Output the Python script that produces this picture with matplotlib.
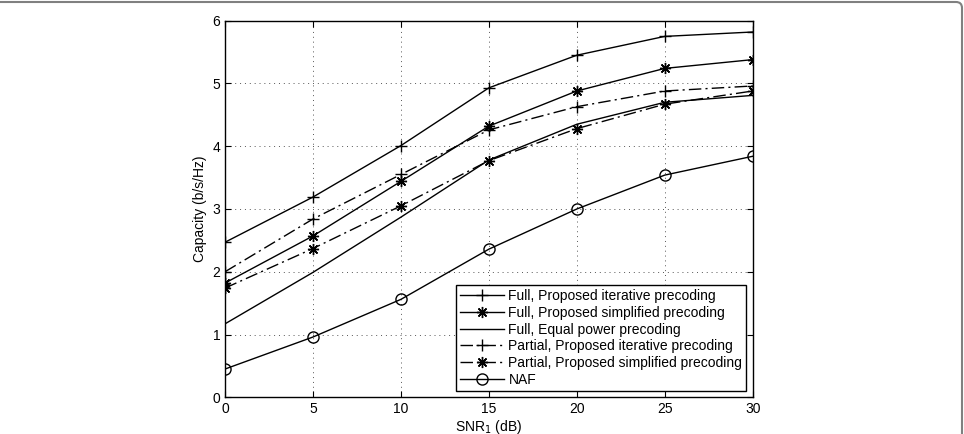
import matplotlib
matplotlib.use("Agg")
import matplotlib.pyplot as plt
from matplotlib.patches import FancyBboxPatch

plt.rcParams['font.family'] = ['Liberation Sans', 'DejaVu Sans']

# SNR points
snr = [0, 5, 10, 15, 20, 25, 30]

# capacity curves (b/s/Hz)
full_iter = [2.47, 3.19, 4.01, 4.93, 5.45, 5.75, 5.82]
full_simp = [1.82, 2.57, 3.44, 4.32, 4.88, 5.24, 5.38]
full_equal = [1.17, 1.99, 2.87, 3.78, 4.35, 4.70, 4.81]
part_iter = [2.00, 2.84, 3.55, 4.26, 4.63, 4.88, 4.96]
part_simp = [1.74, 2.37, 3.05, 3.77, 4.28, 4.67, 4.88]
naf = [0.45, 0.96, 1.56, 2.36, 3.00, 3.54, 3.84]

labels = ['Full, Proposed iterative precoding',
          'Full, Proposed simplified precoding',
          'Full, Equal power precoding',
          'Partial, Proposed iterative precoding',
          'Partial, Proposed simplified precoding',
          'NAF']

fig = plt.figure(figsize=(9.64, 4.34), dpi=100)
ax = fig.add_axes([0.2334, 0.0846, 0.5474, 0.8677])

dashdot = (0, (9, 3, 1.5, 3))
star = (8, 2, 0)
lw = 1.0

ax.plot(snr, full_iter, color='k', lw=lw, ls='-', marker='+', ms=9, mew=1.0, label=labels[0])
ax.plot(snr, full_simp, color='k', lw=lw, ls='-', marker=star, ms=8, mew=1.0, label=labels[1])
ax.plot(snr, full_equal, color='k', lw=lw, ls='-', label=labels[2])
ax.plot(snr, part_iter, color='k', lw=lw, ls=dashdot, marker='+', ms=9, mew=1.0, label=labels[3])
ax.plot(snr, part_simp, color='k', lw=lw, ls=dashdot, marker=star, ms=8, mew=1.0, label=labels[4])
ax.plot(snr, naf, color='k', lw=lw, ls='-', marker='o', ms=8, mfc='none', mew=1.0, label=labels[5])

ax.set_xlim(0, 30)
ax.set_ylim(0, 6)
ax.set_xticks(snr)
ax.set_yticks(range(7))
ax.grid(True, ls=(0, (1, 4)), color='#555555', lw=0.7)
ax.tick_params(direction='in', top=True, right=True, labelsize=10, length=4)
for s in ax.spines.values():
    s.set_linewidth(1.0)

ax.set_xlabel('SNR$_1$ (dB)', fontsize=10, labelpad=1)
ax.set_ylabel('Capacity (b/s/Hz)', fontsize=10, labelpad=4)

leg = ax.legend(loc='lower right', fontsize=10, frameon=True, fancybox=False,
                edgecolor='k', framealpha=1, borderaxespad=0.45, handlelength=3.2,
                handletextpad=0.3, labelspacing=0.2, borderpad=0.3)
leg.get_frame().set_linewidth(1.0)

# page border (top and right edge, rounded corner)
border = FancyBboxPatch((-20, -20), 982, 452, boxstyle='round,pad=0,rounding_size=6',
                        transform=None, fill=False, edgecolor='#808080', lw=1.5)
fig.patches.append(border)

fig.savefig('out.png', dpi=100)
